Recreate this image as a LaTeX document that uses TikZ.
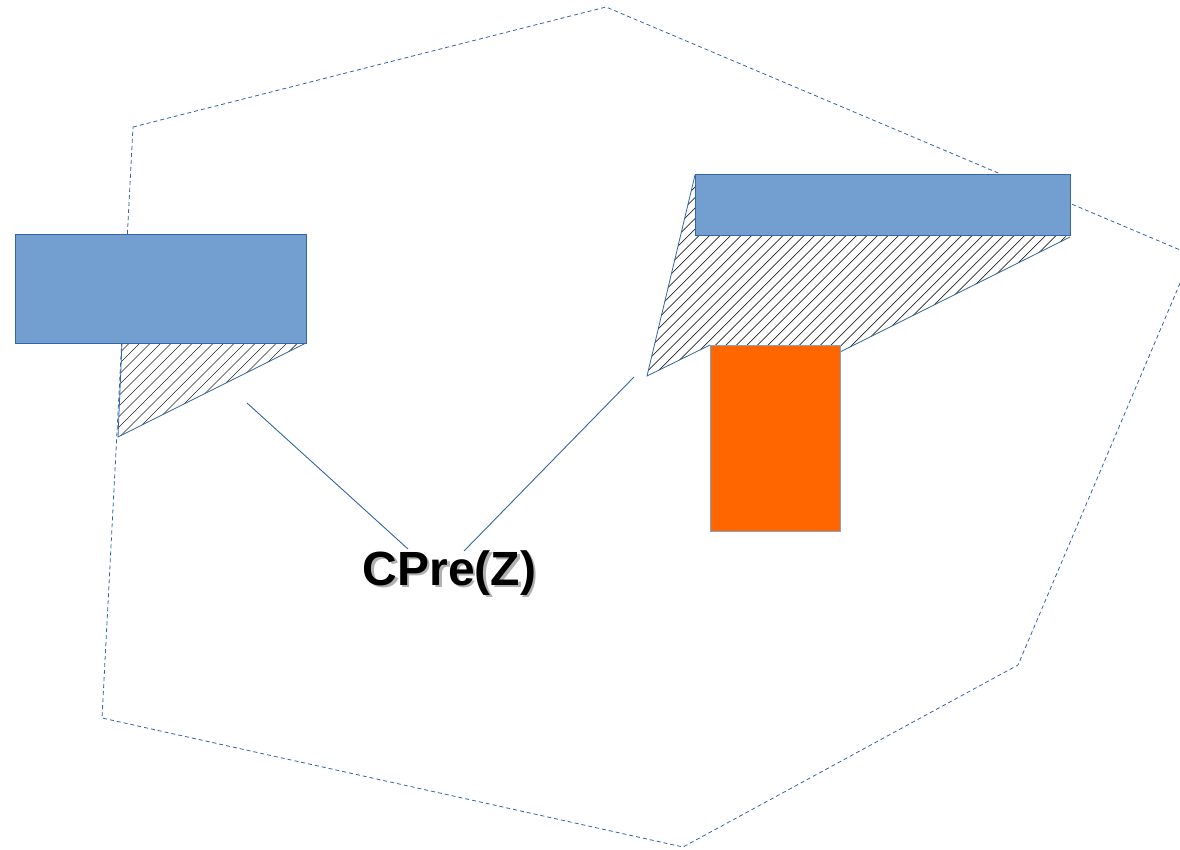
\documentclass[tikz,border=0pt]{standalone}
\usepackage{fontspec}
\setmainfont{Liberation Sans}
\definecolor{boxblue}{HTML}{729FCF}
\definecolor{edgeblue}{HTML}{3465A4}
\definecolor{boxorange}{HTML}{FF6600}
\definecolor{shadowgray}{HTML}{B0B0B0}
\begin{document}
\begin{tikzpicture}[x=1pt,y=-1pt,
  region/.style={draw=edgeblue, line width=0.8pt, dash pattern=on 4pt off 3pt},
  bluebox/.style={draw=edgeblue, fill=boxblue, line width=1pt, anchor=north west, inner sep=0pt, outer sep=0pt},
  orangebox/.style={draw=edgeblue!60, fill=boxorange, line width=1pt, anchor=north west, inner sep=0pt, outer sep=0pt},
  hatchline/.style={draw=black!85, line width=0.7pt},
  rim/.style={draw=edgeblue, line width=0.8pt},
  link/.style={draw=edgeblue, line width=0.9pt},
  tag/.style={font=\bfseries\fontsize{48}{50}\selectfont, inner sep=0pt}]
\useasboundingbox (0,0) rectangle (1180,850);

% dashed outer region
\draw[region] (133,127) -- (606,7) -- (1192,255) -- (1018,665) -- (683,847) -- (102,718) -- cycle;

% hatched wedge below the left box
\begin{scope}
  \clip (122,343) -- (306,343) -- (118,437) -- cycle;
  \foreach \c in {0,10.5,...,1900} \draw[hatchline] (\c,0) -- (\c-900,900);
\end{scope}
\draw[rim] (306,343) -- (118,437) -- (122,343);

% hatched wedge below the right box
\begin{scope}
  \clip (695,175) -- (1070,237) -- (840,352) -- (710,345) -- (647,376) -- cycle;
  \foreach \c in {0,10.5,...,1900} \draw[hatchline] (\c,0) -- (\c-900,900);
\end{scope}
\draw[rim] (1070,237) -- (840,352);
\draw[rim] (710,345) -- (647,376) -- (695,175);

% boxes
\node[bluebox, minimum width=291pt, minimum height=108pt] (leftbox) at (15,235) {};
\node[bluebox, minimum width=375pt, minimum height=61pt] (rightbox) at (695,175) {};
\node[orangebox, minimum width=130pt, minimum height=186pt] (block) at (710,345) {};

% label with shadow
\node[tag, text=shadowgray] (tagshadow) at (452,575.5) {CPre(Z)};
\node[tag, text=black] (tag) at (449.5,573) {CPre(Z)};

% pointers from the label to the two wedges
\coordinate (leftwedge) at (247,403);
\coordinate (rightwedge) at (634,377);
\coordinate (tagleft) at (408,549);
\coordinate (tagright) at (464,551);
\draw[link] (leftwedge) -- (tagleft);
\draw[link] (rightwedge) -- (tagright);
\end{tikzpicture}
\end{document}
